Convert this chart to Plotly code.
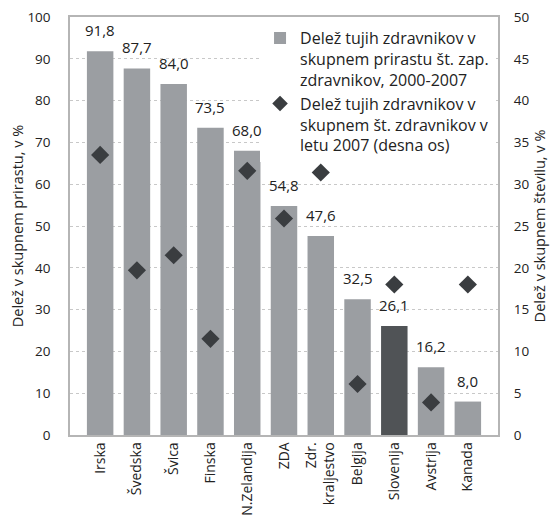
import plotly.graph_objects as go

countries = ["Irska", "Švedska", "Švica", "Finska", "N.Zelandija", "ZDA",
             "Zdr.<br>kraljestvo", "Belgija", "Slovenija", "Avstrija", "Kanada"]
share_growth = [91.8, 87.7, 84.0, 73.5, 68.0, 54.8, 47.6, 32.5, 26.1, 16.2, 8.0]
share_2007 = [33.5, 19.7, 21.5, 11.5, 31.6, 25.9, 31.4, 6.1, 18.0, 3.9, 18.0]

bar_colors = ["#505356" if c == "Slovenija" else "#9b9ea2" for c in countries]
labels = [f"{v:.1f}".replace(".", ",") for v in share_growth]

FONT = "Open Sans, Noto Sans, sans-serif"

fig = go.Figure()
fig.add_trace(go.Bar(
    x=countries, y=share_growth, marker_color=bar_colors, marker_line_width=0,
    name="Delež tujih zdravnikov v<br>skupnem prirastu št. zap.<br>zdravnikov, 2000-2007",
))
fig.add_trace(go.Scatter(
    x=countries, y=share_2007, yaxis="y2", mode="markers",
    marker=dict(symbol="diamond", size=14, color="#3a3d40"),
    name="Delež tujih zdravnikov v<br>skupnem št. zdravnikov v<br>letu 2007 (desna os)",
))

# value labels above the bars
for c, v, t in zip(countries, share_growth, labels):
    fig.add_annotation(x=c, y=v, text=t, showarrow=False, yanchor="middle",
                       yshift=21, font=dict(size=15, color="#222"))

# page body has an 8px margin, so the figure is sized to the visible area
fig.update_layout(
    width=550, height=515,
    margin=dict(l=62, r=60, t=9, b=88),
    plot_bgcolor="white", paper_bgcolor="white",
    font=dict(family=FONT, size=13.5, color="#222"),
    bargap=0.28,
    showlegend=True,
    legend=dict(x=0.444, y=0.99, xanchor="left", yanchor="top",
                bgcolor="white", font=dict(size=16), valign="top",
                tracegroupgap=0, itemwidth=30, itemsizing="constant"),
    xaxis=dict(tickangle=-90, showline=True, mirror=True, linecolor="#b5b5b5",
               linewidth=1.5, tickfont=dict(size=14), automargin=False),
    yaxis=dict(range=[0, 100], dtick=10, showgrid=True, gridcolor="#c8c8c8",
               griddash="dot", showline=True, mirror=True, linecolor="#b5b5b5",
               linewidth=1.5, ticks="outside", ticklen=15, tickcolor="rgba(0,0,0,0)",
               zeroline=False, automargin=False, ticklabeloverflow="allow",
               title=dict(text="Delež v skupnem prirastu, v %", standoff=0,
                          font=dict(size=14.5))),
    yaxis2=dict(range=[0, 50], dtick=5, overlaying="y", side="right",
                showgrid=False, zeroline=False, ticks="outside", ticklen=12,
                tickcolor="rgba(0,0,0,0)", automargin=False, ticklabeloverflow="allow",
                title=dict(text="Delež v skupnem številu, v %", standoff=6,
                           font=dict(size=14.5))),
)

fig.write_html("out.html")
